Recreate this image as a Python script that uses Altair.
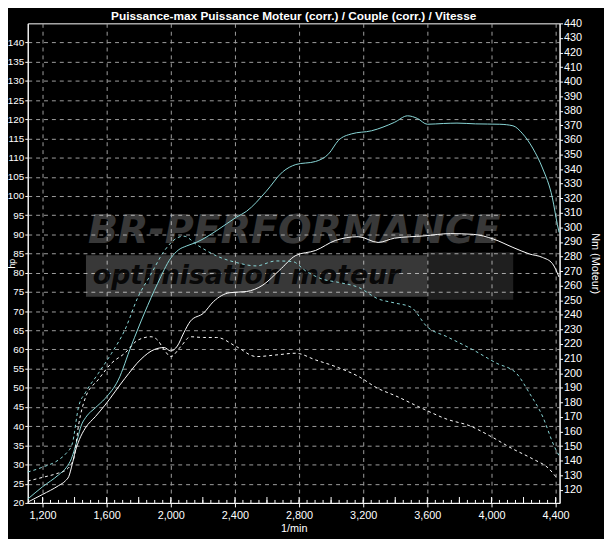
import altair as alt
import pandas as pd

# ---------------- data ----------------
# Power, tuned run (cyan solid), hp
p1_rpm = [1108, 1200, 1300, 1350, 1380, 1400, 1420, 1440, 1470, 1530, 1590, 1672, 1754,
          1836, 1918, 2000, 2050, 2100, 2164, 2287, 2410, 2472, 2595, 2698, 2780, 2903,
          2985, 3046, 3128, 3252, 3395, 3477, 3539, 3600, 3700, 3785, 3900, 4052, 4134,
          4195, 4257, 4318, 4380, 4411, 4422]
p1_hp = [21.0, 24.2, 27.3, 29.3, 31.5, 34.0, 37.0, 40.0, 42.3, 44.8, 47.2, 52.0, 61.0,
         69.5, 77.2, 83.8, 86.0, 87.0, 88.0, 91.0, 94.5, 96.0, 101.2, 106.3, 108.2, 109.0,
         111.0, 114.5, 116.2, 117.0, 119.2, 120.9, 120.2, 118.7, 118.9, 119.0, 118.8, 118.7, 118.3,
         116.2, 112.5, 107.3, 99.5, 92.6, 90.5]

# Power, reference run (white solid), hp
p2_rpm = [1108, 1200, 1300, 1344, 1364, 1385, 1405, 1430, 1467, 1530, 1590, 1713, 1815,
          1898, 1959, 2000, 2041, 2082, 2123, 2205, 2267, 2369, 2472, 2575, 2677, 2780,
          2903, 3026, 3170, 3293, 3395, 3580, 3744, 3887, 4011, 4134, 4236, 4318, 4380, 4421]
p2_hp = [20.2, 22.2, 24.5, 25.8, 26.9, 30.0, 33.5, 36.5, 39.5, 42.5, 45.5, 52.4, 57.5,
         60.0, 60.5, 59.6, 60.9, 64.4, 67.4, 69.5, 72.5, 74.8, 75.1, 76.8, 80.6, 84.5,
         85.8, 88.4, 89.4, 87.9, 89.0, 89.6, 90.2, 90.0, 88.8, 86.6, 84.9, 84.0, 82.4, 78.9]

# Torque, tuned run (cyan dashed), Nm
t1_rpm = [1108, 1200, 1300, 1344, 1385, 1426, 1467, 1549, 1631, 1713, 1795, 1877, 1959,
          2041, 2082, 2164, 2287, 2410, 2533, 2656, 2759, 2841, 2944, 3046, 3170, 3293,
          3395, 3498, 3600, 3723, 3887, 4031, 4154, 4236, 4318, 4390, 4421]
t1_nm = [132.2, 135.5, 140.5, 144.6, 151.4, 177.4, 186.5, 200.0, 213.7, 229.5, 252.1, 268.0, 283.8,
         292.9, 294.0, 288.0, 280.4, 275.9, 273.6, 277.0, 276.6, 270.2, 264.6, 262.3, 258.9, 251.0,
         248.2, 245.3, 231.7, 225.0, 215.9, 206.9, 200.1, 186.5, 170.6, 150.3, 143.5]

# Torque, reference run (white dashed), Nm
t2_rpm = [1108, 1200, 1300, 1344, 1395, 1426, 1467, 1549, 1631, 1713, 1795, 1877, 1918,
          1959, 2000, 2062, 2123, 2205, 2287, 2410, 2533, 2656, 2780, 2903, 3026, 3170,
          3293, 3395, 3580, 3723, 3867, 3990, 4134, 4257, 4359, 4411]
t2_nm = [126.0, 128.5, 131.5, 133.4, 141.4, 165.0, 183.0, 195.7, 206.9, 213.7, 222.7, 225.0, 222.7,
         216.0, 211.4, 218.2, 225.0, 224.5, 224.5, 218.2, 211.4, 212.5, 213.7, 209.1, 204.6, 197.8,
         189.5, 184.8, 175.2, 168.4, 163.8, 157.0, 148.0, 141.2, 134.4, 127.6]

x_ticks = list(range(1200, 4401, 200))
x_minor = list(range(1150, 4401, 50))
hp_ticks = list(range(20, 141, 5))
nm_ticks = list(range(120, 441, 10))

TITLE = "Puissance-max Puissance Moteur (corr.) / Couple (corr.) / Vitesse"
CYAN = "#8ad8d8"
WHITE = "#ffffff"
FONT = "Liberation Sans"
GRID = "#a0a0a0"

power_df = pd.concat([
    pd.DataFrame({"rpm": p1_rpm, "hp": p1_hp, "run": "tuned", "col": CYAN}),
    pd.DataFrame({"rpm": p2_rpm, "hp": p2_hp, "run": "stock", "col": WHITE}),
])
torque_df = pd.concat([
    pd.DataFrame({"rpm": t1_rpm, "nm": t1_nm, "run": "tuned", "col": CYAN}),
    pd.DataFrame({"rpm": t2_rpm, "nm": t2_nm, "run": "stock", "col": WHITE}),
])

W, H = 539, 486
x_scale = alt.Scale(domain=[1108, 4425], nice=False, zero=False)

x_axis = alt.Axis(
    values=x_ticks, format=",d", title="1/min", labelColor="white", titleColor="white",
    labelFont=FONT, titleFont=FONT, labelFontSize=11, titleFontSize=11, titleFontWeight="normal",
    tickColor="white", tickSize=4, labelPadding=3, titlePadding=2,
    domainColor="white", grid=True, gridColor=GRID, gridDash=[4, 4], gridWidth=1,
    labelFlush=False, labelOverlap=False,
)

power = alt.Chart(power_df).mark_line(strokeWidth=1, interpolate="monotone").encode(
    x=alt.X("rpm:Q", scale=x_scale, axis=x_axis),
    y=alt.Y("hp:Q", scale=alt.Scale(domain=[20, 145], nice=False, zero=False),
            axis=alt.Axis(orient="left", values=hp_ticks, title="hp", labelColor="white",
                          titleColor="white", labelFont=FONT, titleFont=FONT, labelFontSize=10,
                          titleFontSize=9, titleFontWeight="normal", tickColor="white",
                          tickSize=3, labelPadding=1, domainColor="white", grid=True,
                          gridColor=GRID, gridDash=[4, 4], gridWidth=1, labelOverlap=False,
                          titleX=-16, titleY=243, titleAngle=-90, titleBaseline="middle",
                          titleAlign="center")),
    color=alt.Color("col:N", scale=None),
    detail="run:N",
)

torque = alt.Chart(torque_df).mark_line(strokeWidth=1, strokeDash=[3, 3], interpolate="monotone").encode(
    x=alt.X("rpm:Q", scale=x_scale),
    y=alt.Y("nm:Q", scale=alt.Scale(domain=[111, 440], nice=False, zero=False),
            axis=alt.Axis(orient="right", values=nm_ticks, title="Nm (Moteur)", labelColor="white",
                          titleColor="white", labelFont=FONT, titleFont=FONT, labelFontSize=11,
                          titleFontSize=11, titleFontWeight="normal", tickColor="white",
                          tickSize=3, labelPadding=1, domainColor="white", grid=False,
                          labelOverlap=False, titleAngle=90, titleX=30, titleY=243)),
    color=alt.Color("col:N", scale=None),
    detail="run:N",
)

minor = alt.Chart(pd.DataFrame({"rpm": x_minor})).mark_rule(color="white", strokeWidth=1).encode(
    x=alt.X("rpm:Q", scale=x_scale),
    y=alt.value(H - 3),
    y2=alt.value(H),
)
major = alt.Chart(pd.DataFrame({"rpm": x_ticks})).mark_rule(color="white", strokeWidth=1).encode(
    x=alt.X("rpm:Q", scale=x_scale),
    y=alt.value(H - 6),
    y2=alt.value(H),
)

one = pd.DataFrame({"a": [0]})
band = alt.Chart(one).mark_rect(color="white", opacity=0.22).encode(
    x=alt.value(59), x2=alt.value(405), y=alt.value(235), y2=alt.value(277))
flag = alt.Chart(one).mark_rect(color="white", opacity=0.12).encode(
    x=alt.value(405), x2=alt.value(492), y=alt.value(232), y2=alt.value(280))
logo1 = alt.Chart(one).mark_text(
    text="BR-PERFORMANCE", font="DejaVu Sans", fontSize=40, fontWeight="bold", fontStyle="italic",
    color="white", opacity=0.22, align="left", baseline="alphabetic").encode(
    x=alt.value(61), y=alt.value(223))
logo2 = alt.Chart(one).mark_text(
    text="optimisation moteur", font="DejaVu Sans", fontSize=27, fontWeight="bold",
    fontStyle="italic", color="black", opacity=0.85, align="left", baseline="alphabetic").encode(
    x=alt.value(66), y=alt.value(264))

title = alt.Chart(one).mark_text(
    text=TITLE, font=FONT, fontSize=12, fontWeight="bold", color="white",
    align="center", baseline="alphabetic").encode(
    x=alt.value(W / 2), y=alt.value(-3))

chart = alt.layer(
    band, flag, logo1, logo2, minor, major, power, torque, title
).resolve_scale(y="independent").properties(
    width=W, height=H,
    autosize=alt.AutoSizeParams(type="none"),
    padding={"left": 20, "top": 12, "right": 45, "bottom": 33},
    background="black",
).configure_view(stroke="white", strokeWidth=1, fill="black")

chart.save("out.html", embed_options={"renderer": "svg", "actions": False})
